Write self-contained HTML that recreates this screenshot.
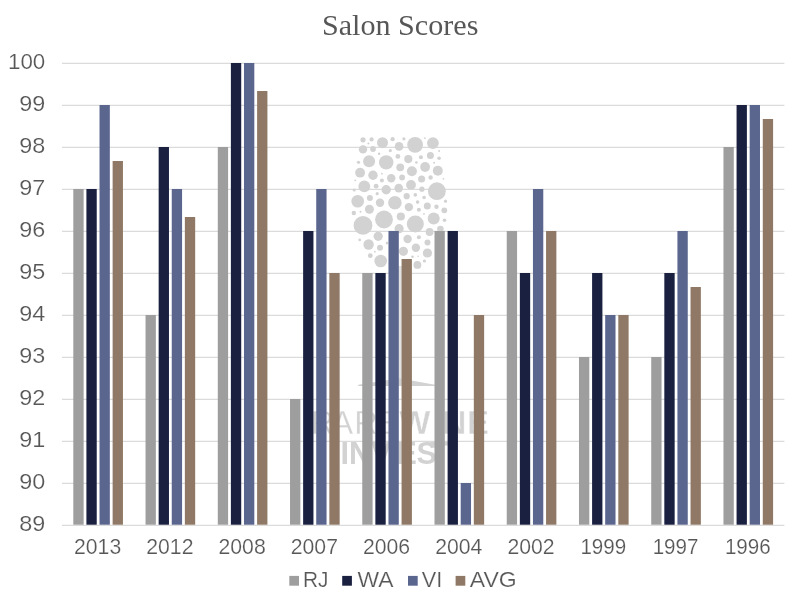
<!DOCTYPE html>
<html lang="en">
<head>
<meta charset="utf-8">
<title>Salon Scores</title>
<style>
html,body{margin:0;padding:0;background:#fff;}
body{width:800px;height:600px;overflow:hidden;}
svg{display:block;}
.ax{font-family:"Liberation Sans",sans-serif;font-size:22.8px;fill:#575757;stroke:#fff;stroke-width:0.2px;}
.lg{font-size:22.2px;}
.ttl{font-family:"Liberation Serif",serif;font-size:30px;fill:#575757;}
.wm1{font-family:"Liberation Sans",sans-serif;font-size:32.5px;fill:#D2D2D2;stroke:#fff;stroke-width:0.3px;}
.wm1 .b{font-weight:bold;font-size:33px;stroke-width:0.4px;}
.wm2{font-family:"Liberation Sans",sans-serif;font-size:30.5px;font-weight:bold;fill:#D2D2D2;}
</style>
</head>
<body>
<svg width="800" height="600" viewBox="0 0 800 600">
<rect x="0" y="0" width="800" height="600" fill="#ffffff"/>
<text class="ttl" x="400.2" y="34.5" text-anchor="middle" textLength="156.5" lengthAdjust="spacingAndGlyphs">Salon Scores</text>
<g stroke="#DBDBDB" stroke-width="1.2">
<line x1="62.0" y1="63.30" x2="784.4" y2="63.30"/>
<line x1="62.0" y1="105.30" x2="784.4" y2="105.30"/>
<line x1="62.0" y1="147.30" x2="784.4" y2="147.30"/>
<line x1="62.0" y1="189.30" x2="784.4" y2="189.30"/>
<line x1="62.0" y1="231.30" x2="784.4" y2="231.30"/>
<line x1="62.0" y1="273.30" x2="784.4" y2="273.30"/>
<line x1="62.0" y1="315.30" x2="784.4" y2="315.30"/>
<line x1="62.0" y1="357.30" x2="784.4" y2="357.30"/>
<line x1="62.0" y1="399.30" x2="784.4" y2="399.30"/>
<line x1="62.0" y1="441.30" x2="784.4" y2="441.30"/>
<line x1="62.0" y1="483.30" x2="784.4" y2="483.30"/>
<line x1="62.0" y1="525.30" x2="784.4" y2="525.30"/>
</g>
<g fill="#D2D2D2">
<circle cx="363.0" cy="139.8" r="2.6"/><circle cx="371.6" cy="139.4" r="2.1"/><circle cx="382.5" cy="142.7" r="5.5"/><circle cx="392.6" cy="139.2" r="2.1"/><circle cx="403.9" cy="138.8" r="1.6"/><circle cx="415.1" cy="144.8" r="7.9"/><circle cx="424.9" cy="138.1" r="0.9"/><circle cx="432.9" cy="143.1" r="5.9"/><circle cx="368.4" cy="143.6" r="1.0"/><circle cx="399.1" cy="146.4" r="4.3"/><circle cx="363.0" cy="149.4" r="4.2"/><circle cx="373.0" cy="149.0" r="2.9"/><circle cx="390.3" cy="150.6" r="1.6"/><circle cx="439.1" cy="151.0" r="1.0"/><circle cx="379.1" cy="153.8" r="1.2"/><circle cx="397.9" cy="156.4" r="2.4"/><circle cx="420.9" cy="157.2" r="2.0"/><circle cx="430.4" cy="155.6" r="3.5"/><circle cx="439.1" cy="158.3" r="1.8"/><circle cx="358.5" cy="162.3" r="1.6"/><circle cx="369.1" cy="161.2" r="6.0"/><circle cx="386.2" cy="162.4" r="7.2"/><circle cx="408.3" cy="159.1" r="4.1"/><circle cx="416.4" cy="162.5" r="1.3"/><circle cx="434.1" cy="162.8" r="1.0"/><circle cx="400.2" cy="167.3" r="3.9"/><circle cx="425.1" cy="167.0" r="4.9"/><circle cx="411.9" cy="171.3" r="5.0"/><circle cx="437.8" cy="170.7" r="5.0"/><circle cx="360.1" cy="172.7" r="4.9"/><circle cx="373.0" cy="175.3" r="4.7"/><circle cx="381.9" cy="173.7" r="0.9"/><circle cx="391.2" cy="178.2" r="4.2"/><circle cx="402.1" cy="177.5" r="2.9"/><circle cx="421.6" cy="179.0" r="3.5"/><circle cx="430.6" cy="177.5" r="2.2"/><circle cx="443.4" cy="178.8" r="0.9"/><circle cx="355.2" cy="180.3" r="0.9"/><circle cx="381.9" cy="180.4" r="2.0"/><circle cx="364.3" cy="186.4" r="5.9"/><circle cx="376.1" cy="186.2" r="2.4"/><circle cx="411.0" cy="184.9" r="4.9"/><circle cx="398.7" cy="188.1" r="4.3"/><circle cx="386.2" cy="189.8" r="4.7"/><circle cx="421.9" cy="189.2" r="2.6"/><circle cx="436.9" cy="191.2" r="8.9"/><circle cx="354.2" cy="190.0" r="1.6"/><circle cx="357.7" cy="201.2" r="6.3"/><circle cx="369.9" cy="198.1" r="3.0"/><circle cx="377.2" cy="193.7" r="1.6"/><circle cx="380.0" cy="202.7" r="4.2"/><circle cx="394.9" cy="202.7" r="6.8"/><circle cx="406.7" cy="196.2" r="3.1"/><circle cx="415.3" cy="194.9" r="1.8"/><circle cx="424.1" cy="197.5" r="1.8"/><circle cx="417.6" cy="202.1" r="1.8"/><circle cx="408.9" cy="207.1" r="4.2"/><circle cx="427.3" cy="206.1" r="3.5"/><circle cx="436.5" cy="206.7" r="2.2"/><circle cx="445.5" cy="201.2" r="1.6"/><circle cx="444.3" cy="210.3" r="2.9"/><circle cx="418.9" cy="209.7" r="2.0"/><circle cx="424.0" cy="213.9" r="0.9"/><circle cx="369.4" cy="209.3" r="4.5"/><circle cx="353.8" cy="213.0" r="2.2"/><circle cx="360.5" cy="211.7" r="1.0"/><circle cx="384.0" cy="219.5" r="8.9"/><circle cx="400.8" cy="216.5" r="4.1"/><circle cx="363.0" cy="225.4" r="9.4"/><circle cx="415.3" cy="223.9" r="8.5"/><circle cx="433.7" cy="218.5" r="6.0"/><circle cx="444.5" cy="220.2" r="1.8"/><circle cx="399.1" cy="228.7" r="4.6"/><circle cx="429.6" cy="232.0" r="3.9"/><circle cx="440.4" cy="229.1" r="3.3"/><circle cx="378.2" cy="236.3" r="4.6"/><circle cx="359.7" cy="239.9" r="1.3"/><circle cx="368.6" cy="244.5" r="5.2"/><circle cx="380.0" cy="247.7" r="3.0"/><circle cx="387.0" cy="243.1" r="1.3"/><circle cx="407.6" cy="239.0" r="4.2"/><circle cx="418.9" cy="237.2" r="2.0"/><circle cx="427.5" cy="242.5" r="3.0"/><circle cx="415.9" cy="247.7" r="4.2"/><circle cx="403.4" cy="251.3" r="4.6"/><circle cx="427.4" cy="253.0" r="4.6"/><circle cx="374.9" cy="251.7" r="0.9"/><circle cx="370.3" cy="255.7" r="2.4"/><circle cx="380.7" cy="261.0" r="6.3"/><circle cx="412.5" cy="256.8" r="1.3"/><circle cx="418.1" cy="256.3" r="0.8"/><circle cx="417.4" cy="264.9" r="3.9"/><circle cx="424.4" cy="261.0" r="1.6"/>
<rect x="398" y="266" width="4" height="116" fill="#E2E2E2"/>
<polygon points="358.3,384.7 399,378.3 435,384.7 435,386 358.3,386"/>
</g>
<text class="wm1" y="433.7"><tspan x="310.4 331.5 354.2 376.6">RARE</tspan><tspan class="b" x="399.3 434.9 442.6 466.9">WINE</tspan></text>
<text class="wm2" y="463.8" x="340.5 349 371 396.5 416.5 430">INVEST</text>
<rect x="73.30" y="189.00" width="10.32" height="335.70" fill="#9E9E9E"/><rect x="86.41" y="189.00" width="10.32" height="335.70" fill="#1A2040"/><rect x="99.51" y="105.00" width="10.32" height="419.70" fill="#5B668F"/><rect x="112.62" y="161.00" width="10.32" height="363.70" fill="#8F7966"/>
<rect x="145.54" y="315.00" width="10.32" height="209.70" fill="#9E9E9E"/><rect x="158.65" y="147.00" width="10.32" height="377.70" fill="#1A2040"/><rect x="171.75" y="189.00" width="10.32" height="335.70" fill="#5B668F"/><rect x="184.86" y="217.00" width="10.32" height="307.70" fill="#8F7966"/>
<rect x="217.78" y="147.00" width="10.32" height="377.70" fill="#9E9E9E"/><rect x="230.89" y="63.00" width="10.32" height="461.70" fill="#1A2040"/><rect x="243.99" y="63.00" width="10.32" height="461.70" fill="#5B668F"/><rect x="257.10" y="91.00" width="10.32" height="433.70" fill="#8F7966"/>
<rect x="290.02" y="399.00" width="10.32" height="125.70" fill="#9E9E9E"/><rect x="303.13" y="231.00" width="10.32" height="293.70" fill="#1A2040"/><rect x="316.23" y="189.00" width="10.32" height="335.70" fill="#5B668F"/><rect x="329.34" y="273.00" width="10.32" height="251.70" fill="#8F7966"/>
<rect x="362.26" y="273.00" width="10.32" height="251.70" fill="#9E9E9E"/><rect x="375.37" y="273.00" width="10.32" height="251.70" fill="#1A2040"/><rect x="388.47" y="231.00" width="10.32" height="293.70" fill="#5B668F"/><rect x="401.58" y="259.00" width="10.32" height="265.70" fill="#8F7966"/>
<rect x="434.50" y="231.00" width="10.32" height="293.70" fill="#9E9E9E"/><rect x="447.61" y="231.00" width="10.32" height="293.70" fill="#1A2040"/><rect x="460.71" y="483.00" width="10.32" height="41.70" fill="#5B668F"/><rect x="473.82" y="315.00" width="10.32" height="209.70" fill="#8F7966"/>
<rect x="506.74" y="231.00" width="10.32" height="293.70" fill="#9E9E9E"/><rect x="519.85" y="273.00" width="10.32" height="251.70" fill="#1A2040"/><rect x="532.95" y="189.00" width="10.32" height="335.70" fill="#5B668F"/><rect x="546.06" y="231.00" width="10.32" height="293.70" fill="#8F7966"/>
<rect x="578.98" y="357.00" width="10.32" height="167.70" fill="#9E9E9E"/><rect x="592.09" y="273.00" width="10.32" height="251.70" fill="#1A2040"/><rect x="605.19" y="315.00" width="10.32" height="209.70" fill="#5B668F"/><rect x="618.30" y="315.00" width="10.32" height="209.70" fill="#8F7966"/>
<rect x="651.22" y="357.00" width="10.32" height="167.70" fill="#9E9E9E"/><rect x="664.33" y="273.00" width="10.32" height="251.70" fill="#1A2040"/><rect x="677.43" y="231.00" width="10.32" height="293.70" fill="#5B668F"/><rect x="690.54" y="287.00" width="10.32" height="237.70" fill="#8F7966"/>
<rect x="723.46" y="147.00" width="10.32" height="377.70" fill="#9E9E9E"/><rect x="736.57" y="105.00" width="10.32" height="419.70" fill="#1A2040"/><rect x="749.67" y="105.00" width="10.32" height="419.70" fill="#5B668F"/><rect x="762.78" y="119.00" width="10.32" height="405.70" fill="#8F7966"/>
<text class="ax" x="45.3" y="69.00" text-anchor="end" textLength="37.3" lengthAdjust="spacingAndGlyphs">100</text>
<text class="ax" x="45.3" y="111.00" text-anchor="end" textLength="26.0" lengthAdjust="spacingAndGlyphs">99</text>
<text class="ax" x="45.3" y="153.00" text-anchor="end" textLength="26.0" lengthAdjust="spacingAndGlyphs">98</text>
<text class="ax" x="45.3" y="195.00" text-anchor="end" textLength="26.0" lengthAdjust="spacingAndGlyphs">97</text>
<text class="ax" x="45.3" y="237.00" text-anchor="end" textLength="26.0" lengthAdjust="spacingAndGlyphs">96</text>
<text class="ax" x="45.3" y="279.00" text-anchor="end" textLength="26.0" lengthAdjust="spacingAndGlyphs">95</text>
<text class="ax" x="45.3" y="321.00" text-anchor="end" textLength="26.0" lengthAdjust="spacingAndGlyphs">94</text>
<text class="ax" x="45.3" y="363.00" text-anchor="end" textLength="26.0" lengthAdjust="spacingAndGlyphs">93</text>
<text class="ax" x="45.3" y="405.00" text-anchor="end" textLength="26.0" lengthAdjust="spacingAndGlyphs">92</text>
<text class="ax" x="45.3" y="447.00" text-anchor="end" textLength="26.0" lengthAdjust="spacingAndGlyphs">91</text>
<text class="ax" x="45.3" y="489.00" text-anchor="end" textLength="26.0" lengthAdjust="spacingAndGlyphs">90</text>
<text class="ax" x="45.3" y="531.00" text-anchor="end" textLength="26.0" lengthAdjust="spacingAndGlyphs">89</text>
<text class="ax" x="97.62" y="553.7" text-anchor="middle" textLength="47.2" lengthAdjust="spacingAndGlyphs">2013</text>
<text class="ax" x="169.86" y="553.7" text-anchor="middle" textLength="47.2" lengthAdjust="spacingAndGlyphs">2012</text>
<text class="ax" x="242.10" y="553.7" text-anchor="middle" textLength="47.2" lengthAdjust="spacingAndGlyphs">2008</text>
<text class="ax" x="314.34" y="553.7" text-anchor="middle" textLength="47.2" lengthAdjust="spacingAndGlyphs">2007</text>
<text class="ax" x="386.58" y="553.7" text-anchor="middle" textLength="47.2" lengthAdjust="spacingAndGlyphs">2006</text>
<text class="ax" x="458.82" y="553.7" text-anchor="middle" textLength="47.2" lengthAdjust="spacingAndGlyphs">2004</text>
<text class="ax" x="531.06" y="553.7" text-anchor="middle" textLength="47.2" lengthAdjust="spacingAndGlyphs">2002</text>
<text class="ax" x="603.30" y="553.7" text-anchor="middle" textLength="45.7" lengthAdjust="spacingAndGlyphs">1999</text>
<text class="ax" x="675.54" y="553.7" text-anchor="middle" textLength="45.7" lengthAdjust="spacingAndGlyphs">1997</text>
<text class="ax" x="747.78" y="553.7" text-anchor="middle" textLength="45.7" lengthAdjust="spacingAndGlyphs">1996</text>
<rect x="289.3" y="575.9" width="9.7" height="9.8" fill="#9E9E9E"/><text class="ax lg" x="303.0" y="586.5" textLength="25.5" lengthAdjust="spacingAndGlyphs">RJ</text>
<rect x="342.2" y="575.9" width="9.7" height="9.8" fill="#1A2040"/><text class="ax lg" x="357.5" y="586.5" textLength="36.0" lengthAdjust="spacingAndGlyphs">WA</text>
<rect x="408.0" y="575.9" width="9.7" height="9.8" fill="#5B668F"/><text class="ax lg" x="421.8" y="586.5" textLength="20.5" lengthAdjust="spacingAndGlyphs">VI</text>
<rect x="455.6" y="575.9" width="9.7" height="9.8" fill="#8F7966"/><text class="ax lg" x="469.8" y="586.5" textLength="47.0" lengthAdjust="spacingAndGlyphs">AVG</text>
</svg>
</body>
</html>
